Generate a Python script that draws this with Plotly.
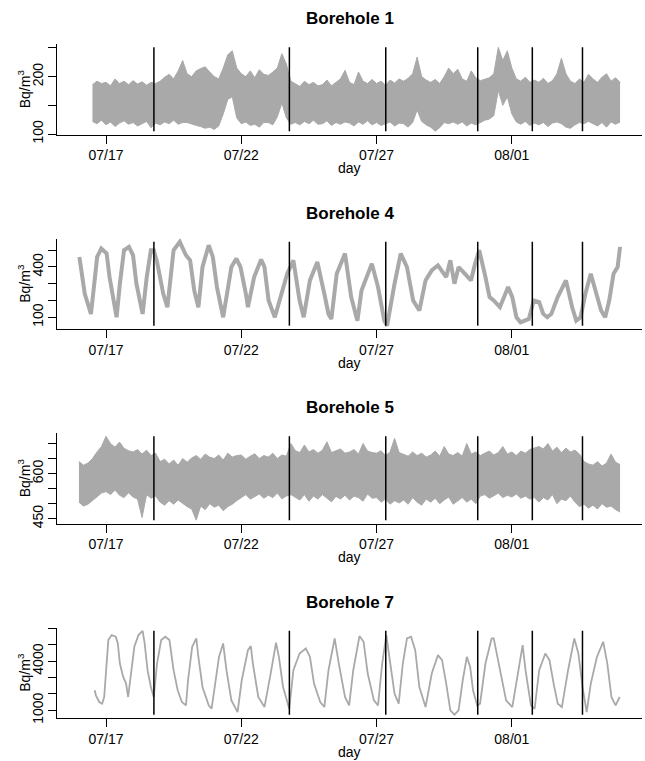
import pandas as pd
import plotly.graph_objects as go

# ---------------- data ----------------
BASE = "2010-07-16 00:00"          # reference day (07/16)
DATA_START = "2010-07-16 00:00"
DATA_END = "2010-08-05 00:00"

x_tick_dates = ["2010-07-17", "2010-07-22", "2010-07-27", "2010-08-01"]
x_tick_labels = ["07/17", "07/22", "07/27", "08/01"]

event_dates = ["2010-07-18 18:30", "2010-07-23 18:40", "2010-07-27 08:10",
               "2010-07-30 17:45", "2010-08-01 18:10", "2010-08-03 14:40"]

titles = ["Borehole 1", "Borehole 4", "Borehole 5", "Borehole 7"]

# Borehole 1: 4-hourly envelope (upper / lower) starting 07/16 12:00
b1_start = "2010-07-16 12:00"
b1_upper = [186, 192, 188,
            190, 184, 196, 188, 192, 186,
            193, 187, 191, 185, 190, 188,
            192, 199, 204, 196, 210, 228,
            205, 200, 210, 214, 217, 208,
            200, 196, 215, 238, 245, 215,
            205, 200, 210, 198, 212, 204,
            202, 208, 215, 240, 222, 192,
            188, 183, 192, 186, 190, 184,
            186, 194, 184, 190, 196, 211,
            190, 186, 208, 192, 188, 195,
            188, 192, 185, 194, 189, 196,
            192, 197, 205, 234, 200, 194,
            190, 195, 188, 200, 215, 205,
            213, 196, 192, 210, 198, 193,
            195, 198, 205, 251, 228, 245,
            215, 196, 192, 199, 190, 194,
            190, 197, 188, 193, 205, 232,
            205, 192, 188, 196, 190, 204,
            196, 190, 199, 205, 192, 198,
            190]
b1_lower = [122, 118, 124,
            116, 121, 113, 119, 123, 117,
            120, 114, 118, 122, 111, 119,
            116, 121, 118, 124, 117, 120,
            120, 117, 115, 113, 110, 112,
            108, 114, 135, 160, 165, 128,
            118, 121, 115, 117, 112, 120,
            120, 116, 130, 154, 128, 117,
            120, 116, 122, 118, 124, 117,
            118, 123, 115, 120, 117, 121,
            119, 114, 121, 117, 123, 116,
            120, 115, 118, 121, 114, 119,
            118, 112, 120, 142, 122, 116,
            112, 105, 111, 120, 118, 121,
            117, 121, 114, 119, 116, 120,
            124, 126, 132, 176, 150, 165,
            135, 121, 117, 122, 115, 119,
            116, 120, 113, 119, 121, 118,
            112, 110, 116, 120, 118, 122,
            118, 114, 120, 112, 121, 117,
            121]

# Borehole 4: (day offset from 07/16, value)
b4_day = [0.017, 0.139, 0.215, 0.368, 0.444, 0.566, 0.673, 0.826, 1.024, 1.131,
          1.284, 1.391, 1.513, 1.666, 1.849, 2.00, 2.124, 2.277, 2.353, 2.506,
          2.658, 2.765, 2.887, 3.116, 3.269, 3.498, 3.727, 3.956, 4.109, 4.261,
          4.414, 4.567, 4.796, 4.948, 5.101, 5.330, 5.635, 5.818, 5.971, 6.17,
          6.246, 6.475, 6.735, 6.857, 7.01, 7.239, 7.468, 7.697, 7.819, 7.926,
          8.155, 8.308, 8.537, 8.811, 9.07, 9.223, 9.33, 9.528, 9.834, 10.063,
          10.292, 10.444, 10.826, 11.055, 11.284, 11.39, 11.665, 11.894, 12.123, 12.353,
          12.582, 12.811, 13.04, 13.269, 13.574, 13.727, 13.879, 14.032, 14.261, 14.49,
          14.643, 14.795, 15.024, 15.177, 15.33, 15.559, 15.864, 16.017, 16.17, 16.322,
          16.628, 16.81, 17.01, 17.16, 17.31, 17.46, 17.695, 18.0, 18.23, 18.38,
          18.54, 18.72, 18.917, 19.07, 19.3, 19.45, 19.6, 19.76, 19.91, 20.0]
b4_val = [460, 340, 240, 160, 120, 300, 460, 510, 480, 340,
          180, 100, 300, 500, 520, 470, 300, 180, 120, 340,
          500, 500, 430, 240, 160, 500, 550, 470, 440, 260,
          160, 400, 530, 460, 280, 100, 400, 450, 400, 240,
          160, 340, 444, 400, 200, 100, 240, 360, 400, 440,
          200, 100, 320, 430, 240, 120, 90, 360, 480, 220,
          80, 260, 420, 280, 80, 50, 300, 480, 400, 200,
          140, 320, 380, 410, 340, 440, 300, 400, 360, 320,
          420, 500, 340, 220, 200, 160, 280, 220, 100, 70,
          90, 200, 190, 120, 100, 120, 220, 320, 160, 80,
          100, 240, 360, 280, 140, 100, 200, 360, 400, 520]

# Borehole 5: 4-hourly envelope starting 07/16 00:00
b5_start = "2010-07-16 00:00"
b5_upper = [640, 628, 635, 650, 672, 690,
            724, 700, 688, 705, 684, 676,
            672, 680, 665, 678, 660, 668,
            640, 648, 632, 645, 628, 650,
            638, 652, 660, 648, 665, 655,
            650, 662, 645, 668, 655, 660,
            662, 648, 658, 666, 650, 660,
            655, 668, 650, 662, 658, 700,
            676, 670, 695, 672, 680, 668,
            678, 706, 670, 675, 682, 668,
            672, 680, 665, 700, 675, 670,
            668, 676, 660, 672, 717, 670,
            665, 658, 672, 660, 668, 655,
            662, 675, 658, 690, 665, 660,
            670, 658, 700, 665, 672, 660,
            668, 675, 662, 670, 690, 665,
            672, 660, 675, 668, 680, 685,
            690, 682, 700, 675, 688, 670,
            685, 672, 678, 665, 640, 632,
            628, 640, 625, 635, 665, 638,
            630]
b5_lower = [505, 492, 498, 510, 520, 535,
            540, 530, 545, 528, 520, 536,
            522, 515, 454, 530, 518, 525,
            505, 495, 510, 498, 512, 500,
            490, 482, 445, 492, 480, 500,
            488, 495, 476, 490, 498, 510,
            520, 530, 515, 525, 532, 518,
            528, 520, 535, 516, 525, 530,
            522, 512, 530, 508, 525, 515,
            530, 518, 506, 524, 515, 528,
            512, 525, 520, 508, 532, 518,
            520, 505, 515, 498, 510, 502,
            512, 498, 520, 505, 495, 515,
            505, 518, 500, 512, 522, 498,
            510, 520, 505, 515, 500, 525,
            530, 518, 526, 535, 520, 528,
            522, 532, 518, 525, 515, 520,
            505, 520, 512, 530, 500, 515,
            510, 525, 505, 490, 498, 485,
            495, 482, 500, 488, 492, 480,
            472]

# Borehole 7: (day offset from 07/16, value)
b7_day = [0.582, 0.627, 0.75, 0.857, 0.933, 1.009, 1.086, 1.208, 1.36, 1.437,
          1.513, 1.635, 1.742, 1.818, 1.94, 2.047, 2.2, 2.353, 2.429, 2.536,
          2.658, 2.765, 2.887, 3.04, 3.192, 3.345, 3.498, 3.65, 3.803, 3.956,
          4.032, 4.185, 4.338, 4.414, 4.567, 4.796, 4.903, 5.025, 5.177, 5.33,
          5.452, 5.635, 5.864, 6.017, 6.246, 6.353, 6.429, 6.628, 6.857, 7.086,
          7.284, 7.391, 7.544, 7.773, 7.926, 8.155, 8.384, 8.537, 8.689, 8.918,
          9.07, 9.223, 9.452, 9.605, 9.834, 9.986, 10.139, 10.368, 10.521, 10.673,
          10.902, 11.055, 11.208, 11.36, 11.513, 11.665, 11.818, 11.971, 12.124, 12.276,
          12.429, 12.582, 12.811, 13.04, 13.269, 13.421, 13.574, 13.727, 13.879, 14.032,
          14.185, 14.337, 14.46, 14.566, 14.719, 14.826, 15.024, 15.253, 15.33, 15.559,
          15.788, 16.017, 16.246, 16.399, 16.506, 16.705, 16.843, 17.01, 17.238, 17.391,
          17.544, 17.697, 17.85, 18.079, 18.308, 18.46, 18.613, 18.766, 18.918, 19.147,
          19.376, 19.529, 19.682, 19.834, 19.987]
b7_val = [2225, 1918, 1510, 1408, 1816, 3449, 5286, 5592, 5490, 5082,
          3857, 3041, 2633, 1816, 3449, 4878, 5592, 5850, 5082, 3449,
          2429, 1816, 3857, 5286, 5490, 5286, 3449, 2225, 1510, 1306,
          2837, 4878, 5388, 4266, 2429, 1306, 1102, 2429, 4266, 5082,
          3449, 1612, 898, 2837, 4674, 4919, 3857, 1816, 1204, 3245,
          5123, 4266, 2429, 1102, 3449, 4470, 4776, 4266, 2633, 1510,
          1204, 3449, 5388, 3857, 1816, 1306, 3449, 5531, 5184, 3245,
          1612, 1306, 3857, 5592, 3653, 2021, 1408, 3857, 5388, 5490,
          4674, 2429, 1204, 3245, 4368, 4062, 2633, 1000, 740, 1000,
          2837, 4266, 3653, 2225, 1306, 1408, 3857, 5388, 5388, 3449,
          1612, 1204, 3449, 4980, 3449, 1306, 1102, 3449, 4470, 4062,
          2633, 1408, 1204, 3449, 5388, 4470, 2429, 898, 2633, 4266,
          5184, 3857, 1816, 1306, 1816]

# labelled y ticks and unlabelled (minor) tick positions
y_label_vals = [[100, 200], [100, 400], [450, 600], [1000, 4000]]
y_minor_vals = [[100, 150, 200, 250],
                [100, 200, 300, 400, 500],
                [450, 500, 550, 600, 650, 700],
                [1000, 2000, 3000, 4000, 5000, 6000]]

# ---------------- layout geometry (pixels) ----------------
W, H = 645, 761
PLOT_L, PLOT_R = 57.3, 641.7
PANEL_TOP = [44.0, 238.5, 433.0, 627.5]
PANEL_BOT = [134.5, 329.0, 523.5, 718.0]
GRAY = "#a9a9a9"
FONT = "Liberation Sans, Arial, Helvetica, sans-serif"

base = pd.Timestamp(BASE)
ds, de = pd.Timestamp(DATA_START), pd.Timestamp(DATA_END)
span = de - ds
x_range = [ds - 0.04 * span, de + 0.04 * span]


def day_times(days):
    return [base + pd.Timedelta(days=d) for d in days]


series = []
t1 = pd.date_range(b1_start, periods=len(b1_upper), freq="4h")
series.append(("band", t1, b1_upper, b1_lower))
series.append(("line", day_times(b4_day), b4_val, None))
t5 = pd.date_range(b5_start, periods=len(b5_upper), freq="4h")
series.append(("band", t5, b5_upper, b5_lower))
series.append(("line", day_times(b7_day), b7_val, None))

fig = go.Figure()
layout = dict(width=W, height=H, margin=dict(l=0, r=0, t=0, b=0, autoexpand=False),
              template="none",
              paper_bgcolor="white", plot_bgcolor="white",
              font=dict(family=FONT, size=14, color="black"),
              showlegend=False, annotations=[])

for i, (kind, tt, v1, v2) in enumerate(series):
    n = "" if i == 0 else str(i + 1)
    xa, ya = "x" + n, "y" + n
    if kind == "band":
        fig.add_trace(go.Scatter(x=tt, y=v2, mode="lines", line=dict(color=GRAY, width=1),
                                 xaxis=xa, yaxis=ya, hoverinfo="skip"))
        fig.add_trace(go.Scatter(x=tt, y=v1, mode="lines", line=dict(color=GRAY, width=1),
                                 fill="tonexty", fillcolor=GRAY,
                                 xaxis=xa, yaxis=ya, hoverinfo="skip"))
        lo, hi = min(v2), max(v1)
    else:
        lw = 4 if i == 1 else 1.8
        fig.add_trace(go.Scatter(x=tt, y=v1, mode="lines", line=dict(color=GRAY, width=lw),
                                 xaxis=xa, yaxis=ya, hoverinfo="skip"))
        lo, hi = min(v1), max(v1)
    d = hi - lo
    y_range = [lo - 0.04 * d, hi + 0.04 * d]

    # vertical event lines spanning the data range
    ex, ey = [], []
    for e in event_dates:
        ex += [pd.Timestamp(e), pd.Timestamp(e), None]
        ey += [lo, hi, None]
    fig.add_trace(go.Scatter(x=ex, y=ey, mode="lines", line=dict(color="black", width=1.5),
                             xaxis=xa, yaxis=ya, hoverinfo="skip"))

    y0 = 1 - PANEL_BOT[i] / H
    y1 = 1 - PANEL_TOP[i] / H
    layout["xaxis" + n] = dict(domain=[PLOT_L / W, PLOT_R / W], anchor=ya, type="date",
                               range=x_range, tickvals=x_tick_dates, ticktext=x_tick_labels,
                               ticks="outside", ticklen=8, tickwidth=1, tickcolor="black",
                               showline=True, linecolor="black", linewidth=1,
                               showgrid=False, zeroline=False, automargin=False,
                               tickfont=dict(size=14, color="black", family=FONT))
    layout["yaxis" + n] = dict(domain=[y0, y1], anchor=xa, range=y_range,
                               tickvals=y_label_vals[i],
                               tickangle=-90, ticks="outside", ticklen=8, tickwidth=1,
                               tickcolor="black", showline=True, linecolor="black",
                               linewidth=1, showgrid=False, zeroline=False, automargin=False,
                               minor=dict(tickvals=y_minor_vals[i], ticks="outside",
                                          ticklen=8, tickwidth=1, tickcolor="black",
                                          showgrid=False),
                               tickfont=dict(size=14, color="black", family=FONT))
    ymid = 1 - (PANEL_TOP[i] + PANEL_BOT[i]) / 2 / H
    layout["annotations"] += [
        dict(text="<b>" + titles[i] + "</b>", xref="paper", yref="paper",
             x=(PLOT_L + PLOT_R) / 2 / W, y=1 - (PANEL_TOP[i] - 25.4) / H,
             xanchor="center", yanchor="middle", showarrow=False,
             font=dict(size=17, family=FONT, color="black")),
        dict(text="Bq/m<sup>3</sup>", xref="paper", yref="paper",
             x=24 / W, y=ymid, xanchor="center", yanchor="middle", textangle=-90,
             showarrow=False, font=dict(size=14, family=FONT, color="black")),
        dict(text="day", xref="paper", yref="paper",
             x=(PLOT_L + PLOT_R) / 2 / W, y=1 - (PANEL_BOT[i] + 33.7) / H,
             xanchor="center", yanchor="middle", showarrow=False,
             font=dict(size=14, family=FONT, color="black")),
    ]

fig.update_layout(**layout)
fig.write_html("out.html", config={"displayModeBar": False},
               post_script="document.body.style.margin='0';document.body.style.padding='0';")
